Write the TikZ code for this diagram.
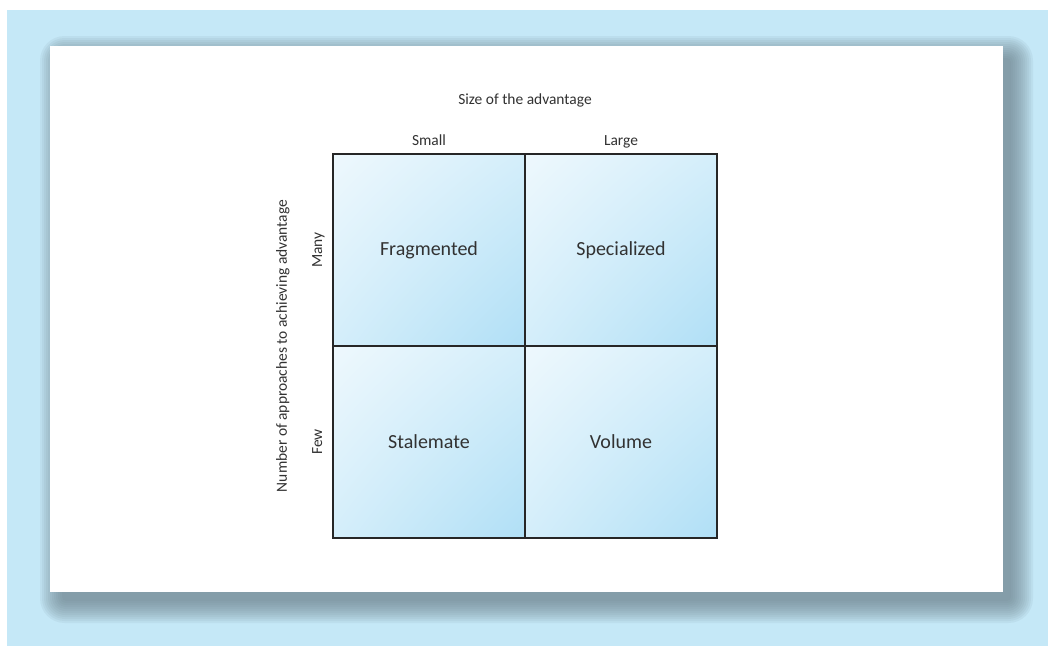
\documentclass[tikz,border=0pt]{standalone}
\usepackage{fontspec}
\setmainfont{Carlito}
\usetikzlibrary{positioning,shadings}
\definecolor{panelblue}{RGB}{197,232,247}
\definecolor{shadowgray}{RGB}{104,126,135}
\definecolor{cellhi}{RGB}{238,248,253}
\definecolor{cellmid}{RGB}{212,238,250}
\definecolor{celllo}{RGB}{176,223,246}
\definecolor{labelgray}{RGB}{50,50,50}

\begin{document}
\begin{tikzpicture}[
  x=0.75pt, y=-0.75pt,
  cell/.style={draw=black!85, line width=0.9pt, minimum size=144pt, inner sep=0pt, outer sep=0pt,
    upper left=cellhi, upper right=cellmid, lower left=cellmid, lower right=celllo,
    font=\fontsize{15}{17}\selectfont, text=labelgray},
  axis/.style={font=\fontsize{11.6}{13}\selectfont, text=labelgray, inner sep=1pt,
    text height=1.6ex, text depth=0.4ex}
]
  \useasboundingbox (0,0) rectangle (1048,646);
  % panel and card
  \fill[panelblue] (7,10) rectangle (1048,646);
  \foreach \i [evaluate=\i as \rc using 3+\i*1.4] in {0,...,11}
    \fill[shadowgray, opacity=0.085, rounded corners=\rc pt]
      (62-\i*2,58-\i*2) rectangle (1011+\i*2,601+\i*2);
  \fill[white] (50,46) rectangle (1003,592);

  % the four cells
  \node[cell] (frag) at (429,250) {Fragmented};
  \node[cell, right=0pt of frag] (spec) {Specialized};
  \node[cell, below=0pt of frag] (stale) {Stalemate};
  \node[cell, below=0pt of spec] (vol) {Volume};

  % axis labels
  \node[axis, above=3pt of frag] (small) {Small};
  \node[axis, above=3pt of spec] (large) {Large};
  \node[axis] (size) at (525,101) {Size of the advantage};
  \node[axis, rotate=90, anchor=south] (many) at ([xshift=-5pt]frag.west) {Many};
  \node[axis, rotate=90, anchor=south] (few) at ([xshift=-5pt]stale.west) {Few};
  \node[axis, rotate=90] (number) at (283,346) {Number of approaches to achieving advantage};
\end{tikzpicture}
\end{document}
